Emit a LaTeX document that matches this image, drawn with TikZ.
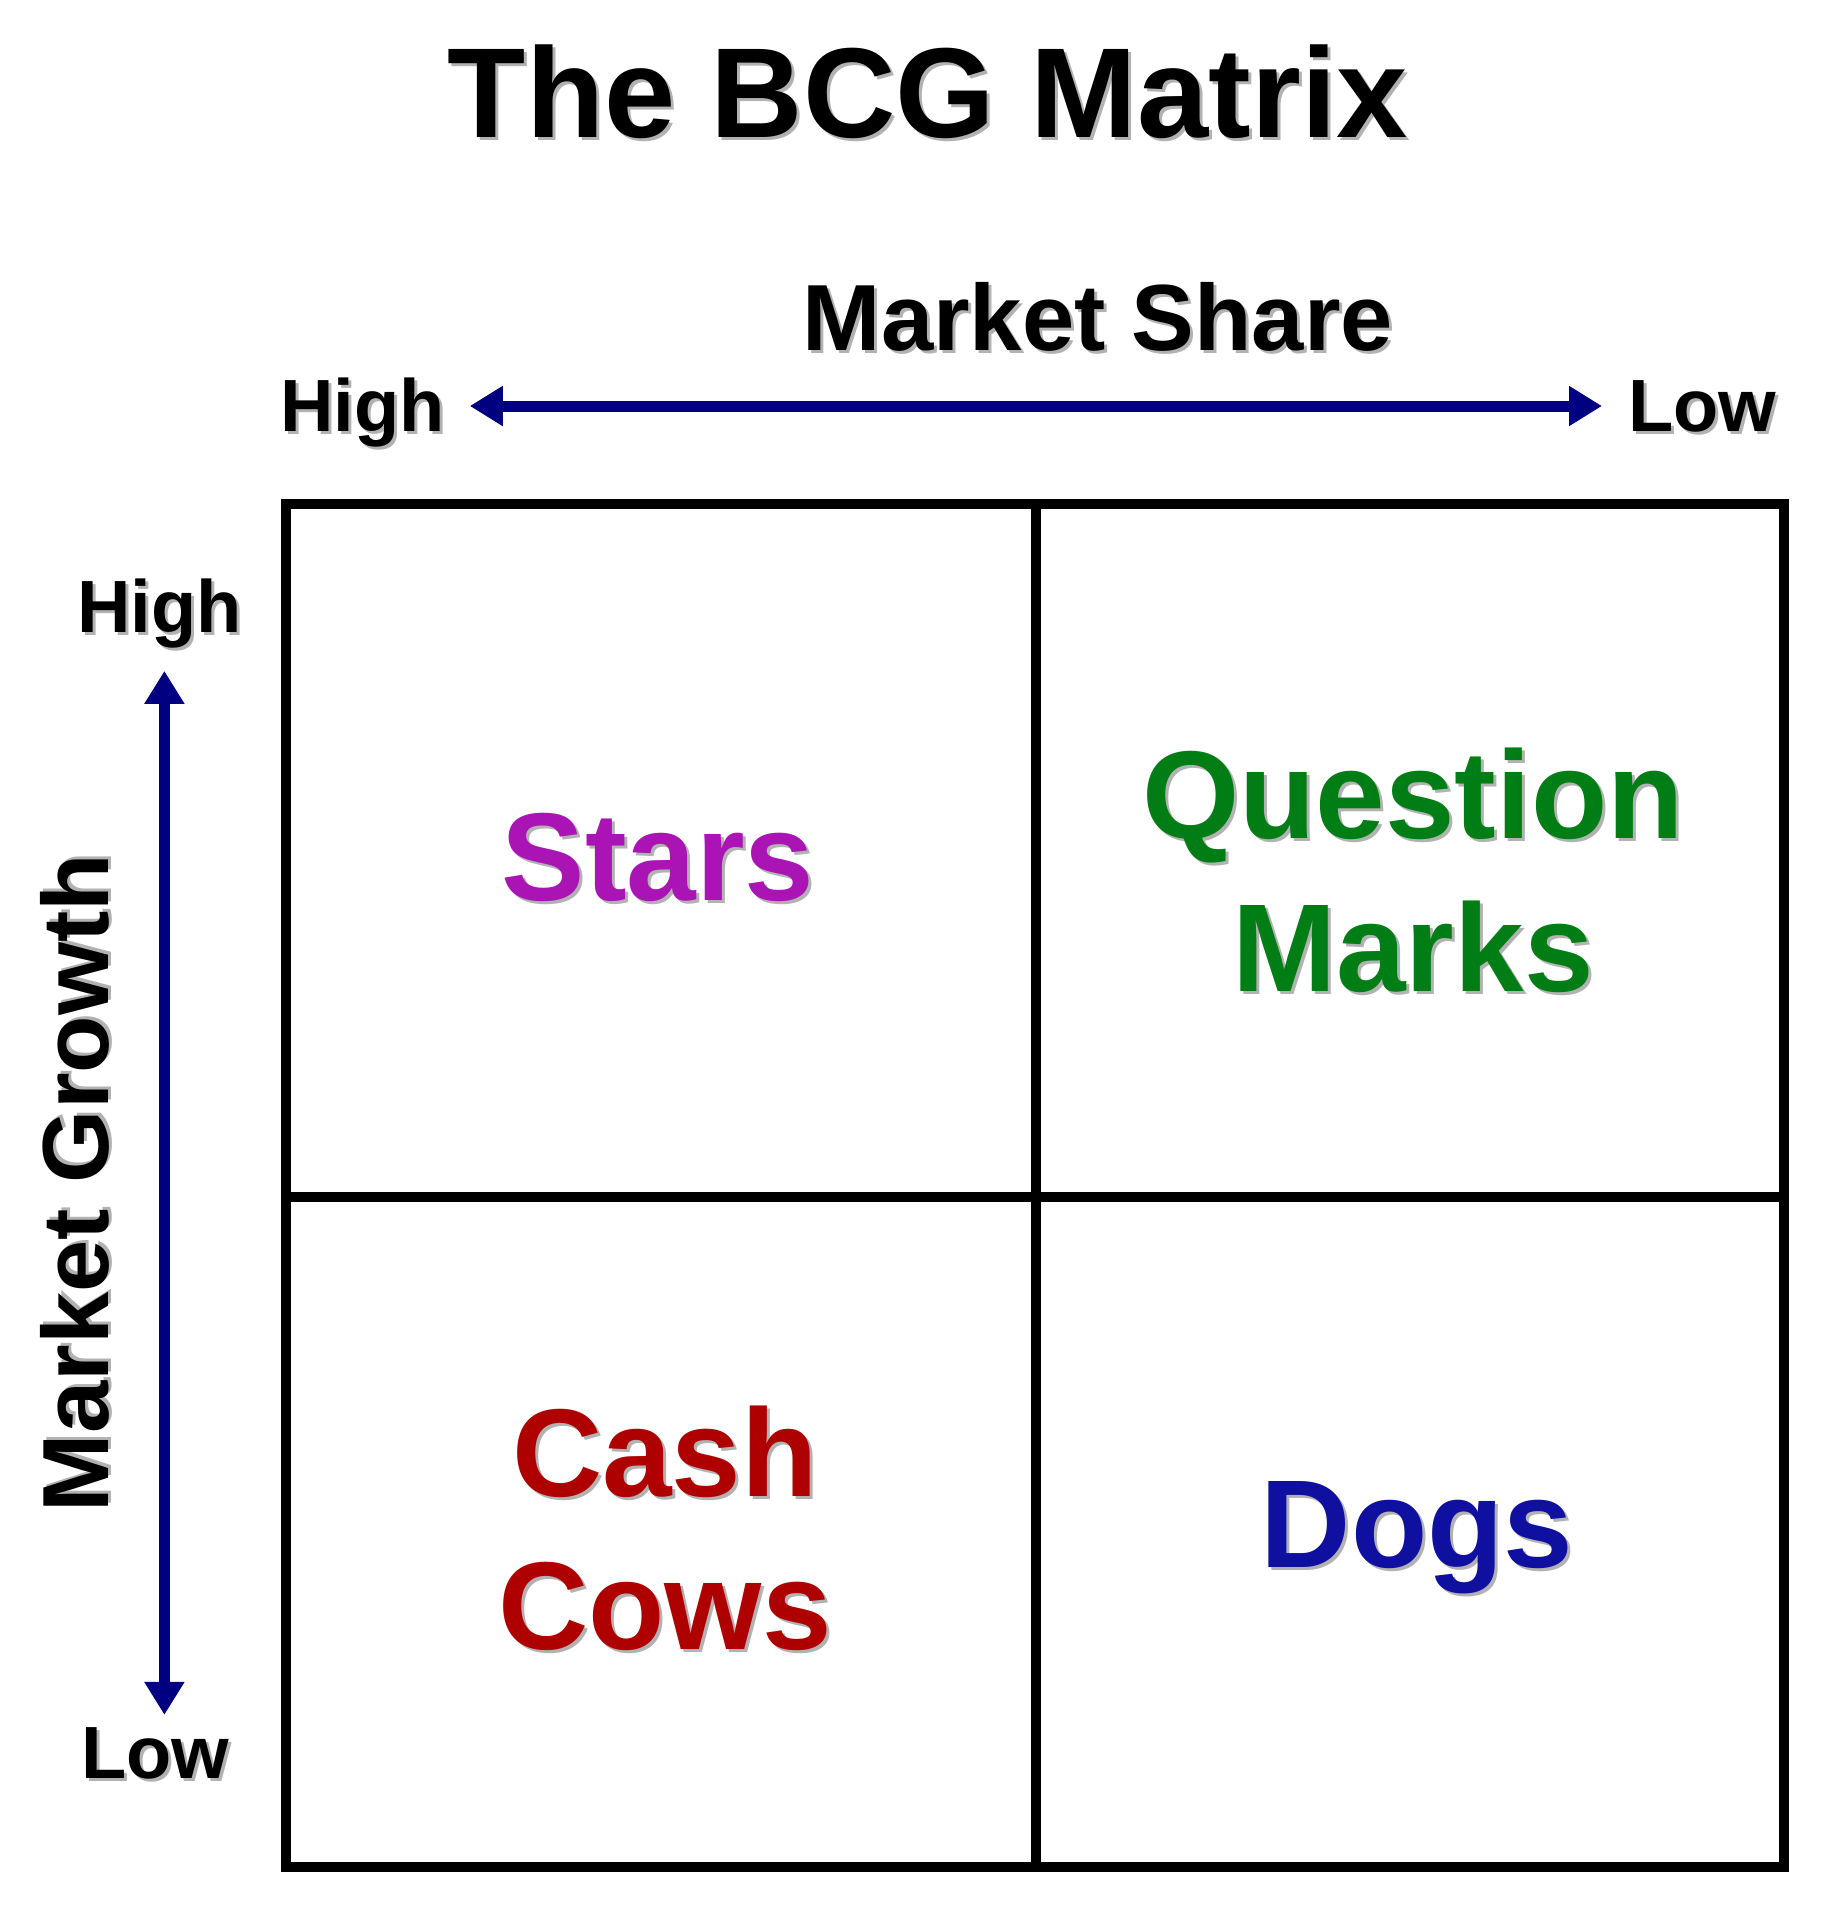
\documentclass[tikz,border=0pt]{standalone}
\usepackage{fontspec}
\setmainfont{Liberation Sans}
\usetikzlibrary{arrows.meta}
\definecolor{axisblue}{RGB}{0,0,128}
\definecolor{starcol}{RGB}{170,20,180}
\definecolor{questcol}{RGB}{0,125,20}
\definecolor{cashcol}{RGB}{175,0,0}
\definecolor{dogcol}{RGB}{15,15,160}
\newcommand{\shadowed}[1]{\makebox[0pt][l]{\kern3pt\raisebox{-3pt}{\color{black!30}#1}}#1}

\begin{document}
\begin{tikzpicture}[x=1pt,y=-1pt,
    endlbl/.style={inner sep=0pt, font=\bfseries\fontsize{74}{80}\selectfont},
    axislbl/.style={inner sep=0pt, font=\bfseries\fontsize{94}{100}\selectfont},
    quad/.style={inner sep=0pt, align=center, font=\bfseries\fontsize{125}{153}\selectfont},
    axisarrow/.style={draw=axisblue, line width=11pt, {Triangle[length=33pt,width=38pt]}-{Triangle[length=33pt,width=38pt]}}]
    \useasboundingbox (0,0) rectangle (1839,1920);

    \node[inner sep=0pt, anchor=base, font=\bfseries\fontsize{128}{140}\selectfont] (title) at (928,137) {\shadowed{The BCG Matrix}};

    % Market share axis
    \node[axislbl, anchor=base] (share) at (1098,350) {\shadowed{Market Share}};
    \node[endlbl, anchor=west, text height=50pt, text depth=0pt] (hiShare) at (280,406) {\shadowed{High}};
    \node[endlbl, anchor=west, text height=50pt, text depth=0pt] (loShare) at (1628,406) {\shadowed{Low}};
    \draw[axisarrow, shorten <=25pt, shorten >=26pt] (hiShare.east) -- (loShare.west);

    % Market growth axis
    \node[axislbl, anchor=base, rotate=90] (growth) at (108,1183) {\shadowed{Market Growth}};
    \node[endlbl, anchor=base west] (hiGrowth) at (77,632) {\shadowed{High}};
    \node[endlbl, anchor=base west] (loGrowth) at (81,1778) {\shadowed{Low}};
    \draw[axisarrow, shorten <=20pt, shorten >=12pt] ([xshift=5pt]hiGrowth.south) -- ([xshift=5pt]hiGrowth.south |- loGrowth.north);

    % Matrix
    \draw[line width=10pt] (286,504) rectangle (1784,1867);
    \draw[line width=10pt] (1036,504) -- (1036,1867);
    \draw[line width=10pt] (286,1197) -- (1784,1197);

    % Quadrants (base = last line)
    \node[quad, text=starcol, anchor=base] (stars) at (658,900) {\shadowed{Stars}};
    \node[quad, text=questcol, anchor=base] (question) at (1413,991) {\shadowed{Question}\\\shadowed{Marks}};
    \node[quad, text=cashcol, anchor=base] (cows) at (665,1649) {\shadowed{Cash}\\\shadowed{Cows}};
    \node[quad, text=dogcol, anchor=base] (dogs) at (1417,1567) {\shadowed{Dogs}};
\end{tikzpicture}
\end{document}
